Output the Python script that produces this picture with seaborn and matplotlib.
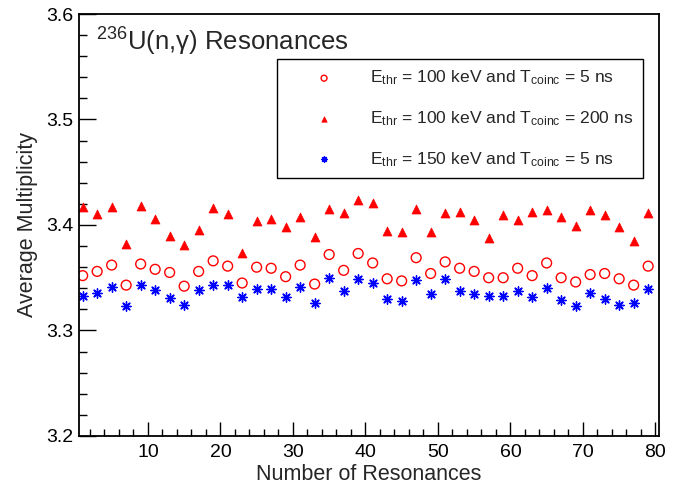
import numpy as np
import pandas as pd
import matplotlib
matplotlib.use("Agg")
import matplotlib.pyplot as plt
import seaborn as sns
from matplotlib.ticker import MultipleLocator

resonances = list(range(1, 80, 2))

mult_100keV_5ns = [3.352, 3.356, 3.362, 3.343, 3.363, 3.358, 3.355, 3.342, 3.356, 3.366,
                   3.361, 3.345, 3.360, 3.359, 3.351, 3.362, 3.344, 3.372, 3.357, 3.373,
                   3.364, 3.349, 3.347, 3.369, 3.354, 3.365, 3.359, 3.356, 3.350, 3.350,
                   3.359, 3.352, 3.364, 3.350, 3.346, 3.353, 3.354, 3.349, 3.343, 3.361]

mult_100keV_200ns = [3.417, 3.410, 3.417, 3.382, 3.418, 3.406, 3.390, 3.381, 3.395, 3.416,
                     3.410, 3.373, 3.404, 3.406, 3.398, 3.408, 3.389, 3.415, 3.411, 3.424,
                     3.421, 3.394, 3.393, 3.415, 3.393, 3.411, 3.412, 3.405, 3.388, 3.409,
                     3.405, 3.412, 3.414, 3.408, 3.399, 3.414, 3.409, 3.398, 3.385, 3.411]

mult_150keV_5ns = [3.333, 3.336, 3.341, 3.323, 3.343, 3.338, 3.331, 3.324, 3.338, 3.343,
                   3.343, 3.332, 3.339, 3.339, 3.332, 3.341, 3.326, 3.350, 3.337, 3.349,
                   3.345, 3.330, 3.328, 3.348, 3.335, 3.349, 3.337, 3.335, 3.333, 3.333,
                   3.337, 3.332, 3.340, 3.329, 3.323, 3.336, 3.330, 3.324, 3.326, 3.339]

labels = [r"E$_{\mathregular{thr}}$ = 100 keV and T$_{\mathregular{coinc}}$ = 5 ns",
          r"E$_{\mathregular{thr}}$ = 100 keV and T$_{\mathregular{coinc}}$ = 200 ns",
          r"E$_{\mathregular{thr}}$ = 150 keV and T$_{\mathregular{coinc}}$ = 5 ns"]

title_text = r"$^{\mathregular{236}}$U(n,γ) Resonances"
x_label = "Number of Resonances"
y_label = "Average Multiplicity"
x_ticks = [10, 20, 30, 40, 50, 60, 70, 80]
y_ticks = [3.2, 3.3, 3.4, 3.5, 3.6]

sns.set_style("ticks")
plt.rcParams["font.family"] = ["Liberation Sans", "DejaVu Sans"]
plt.rcParams["mathtext.fontset"] = "custom"
plt.rcParams["mathtext.rm"] = "Liberation Sans"
plt.rcParams["mathtext.it"] = "Liberation Sans"
plt.rcParams["mathtext.default"] = "regular"

fig = plt.figure(figsize=(6.89, 4.88), dpi=100)
ax = fig.add_axes([0.1147, 0.1066, 0.8418, 0.8647])

df = pd.DataFrame({"x": resonances, "a": mult_100keV_5ns,
                   "b": mult_100keV_200ns, "c": mult_150keV_5ns})

sns.scatterplot(data=df, x="x", y="a", ax=ax, marker="o", s=50,
                facecolors="none", edgecolor="#ff0000", linewidth=1.0, label=labels[0])
sns.scatterplot(data=df, x="x", y="b", ax=ax, marker="^", s=42,
                color="#ff0000", edgecolor="#ff0000", linewidth=0.5, label=labels[1])
sns.scatterplot(data=df, x="x", y="c", ax=ax, marker=(8, 2, 0), s=45,
                color="#0000ff", edgecolor="#0000ff", linewidth=1.0, label=labels[2])

ax.set_xlim(0.5, 80.5)
ax.set_ylim(3.2, 3.6)
ax.set_xticks(x_ticks)
ax.set_yticks(y_ticks)
ax.set_yticklabels([f"{v:.1f}" for v in y_ticks])
ax.xaxis.set_minor_locator(MultipleLocator(2))
ax.yaxis.set_minor_locator(MultipleLocator(0.02))
ax.tick_params(axis="both", which="both", direction="in", top=False, right=False,
               labelsize=14, width=1.0, colors="black")
ax.tick_params(axis="x", which="major", length=10, pad=6)
ax.tick_params(axis="x", which="minor", length=5)
ax.tick_params(axis="y", which="major", length=12, pad=4)
ax.tick_params(axis="y", which="minor", length=6)
for sp in ax.spines.values():
    sp.set_visible(True)
    sp.set_linewidth(1.3)
    sp.set_color("black")

ax.set_xlabel(x_label, fontsize=15.5, labelpad=2)
ax.set_ylabel(y_label, fontsize=15.5, labelpad=6)
ax.text(0.03, 0.935, title_text, transform=ax.transAxes, fontsize=18.5,
        ha="left", va="center")

leg = ax.legend(loc="upper left", bbox_to_anchor=(0.341, 0.893), borderaxespad=0,
                fontsize=12.6, frameon=True, fancybox=False, edgecolor="black",
                framealpha=1, markerscale=0.6, handlelength=4.3, handletextpad=0.45,
                labelspacing=1.25, borderpad=0.55)
leg.get_frame().set_linewidth(1.0)

fig.savefig("out.png", dpi=100)
